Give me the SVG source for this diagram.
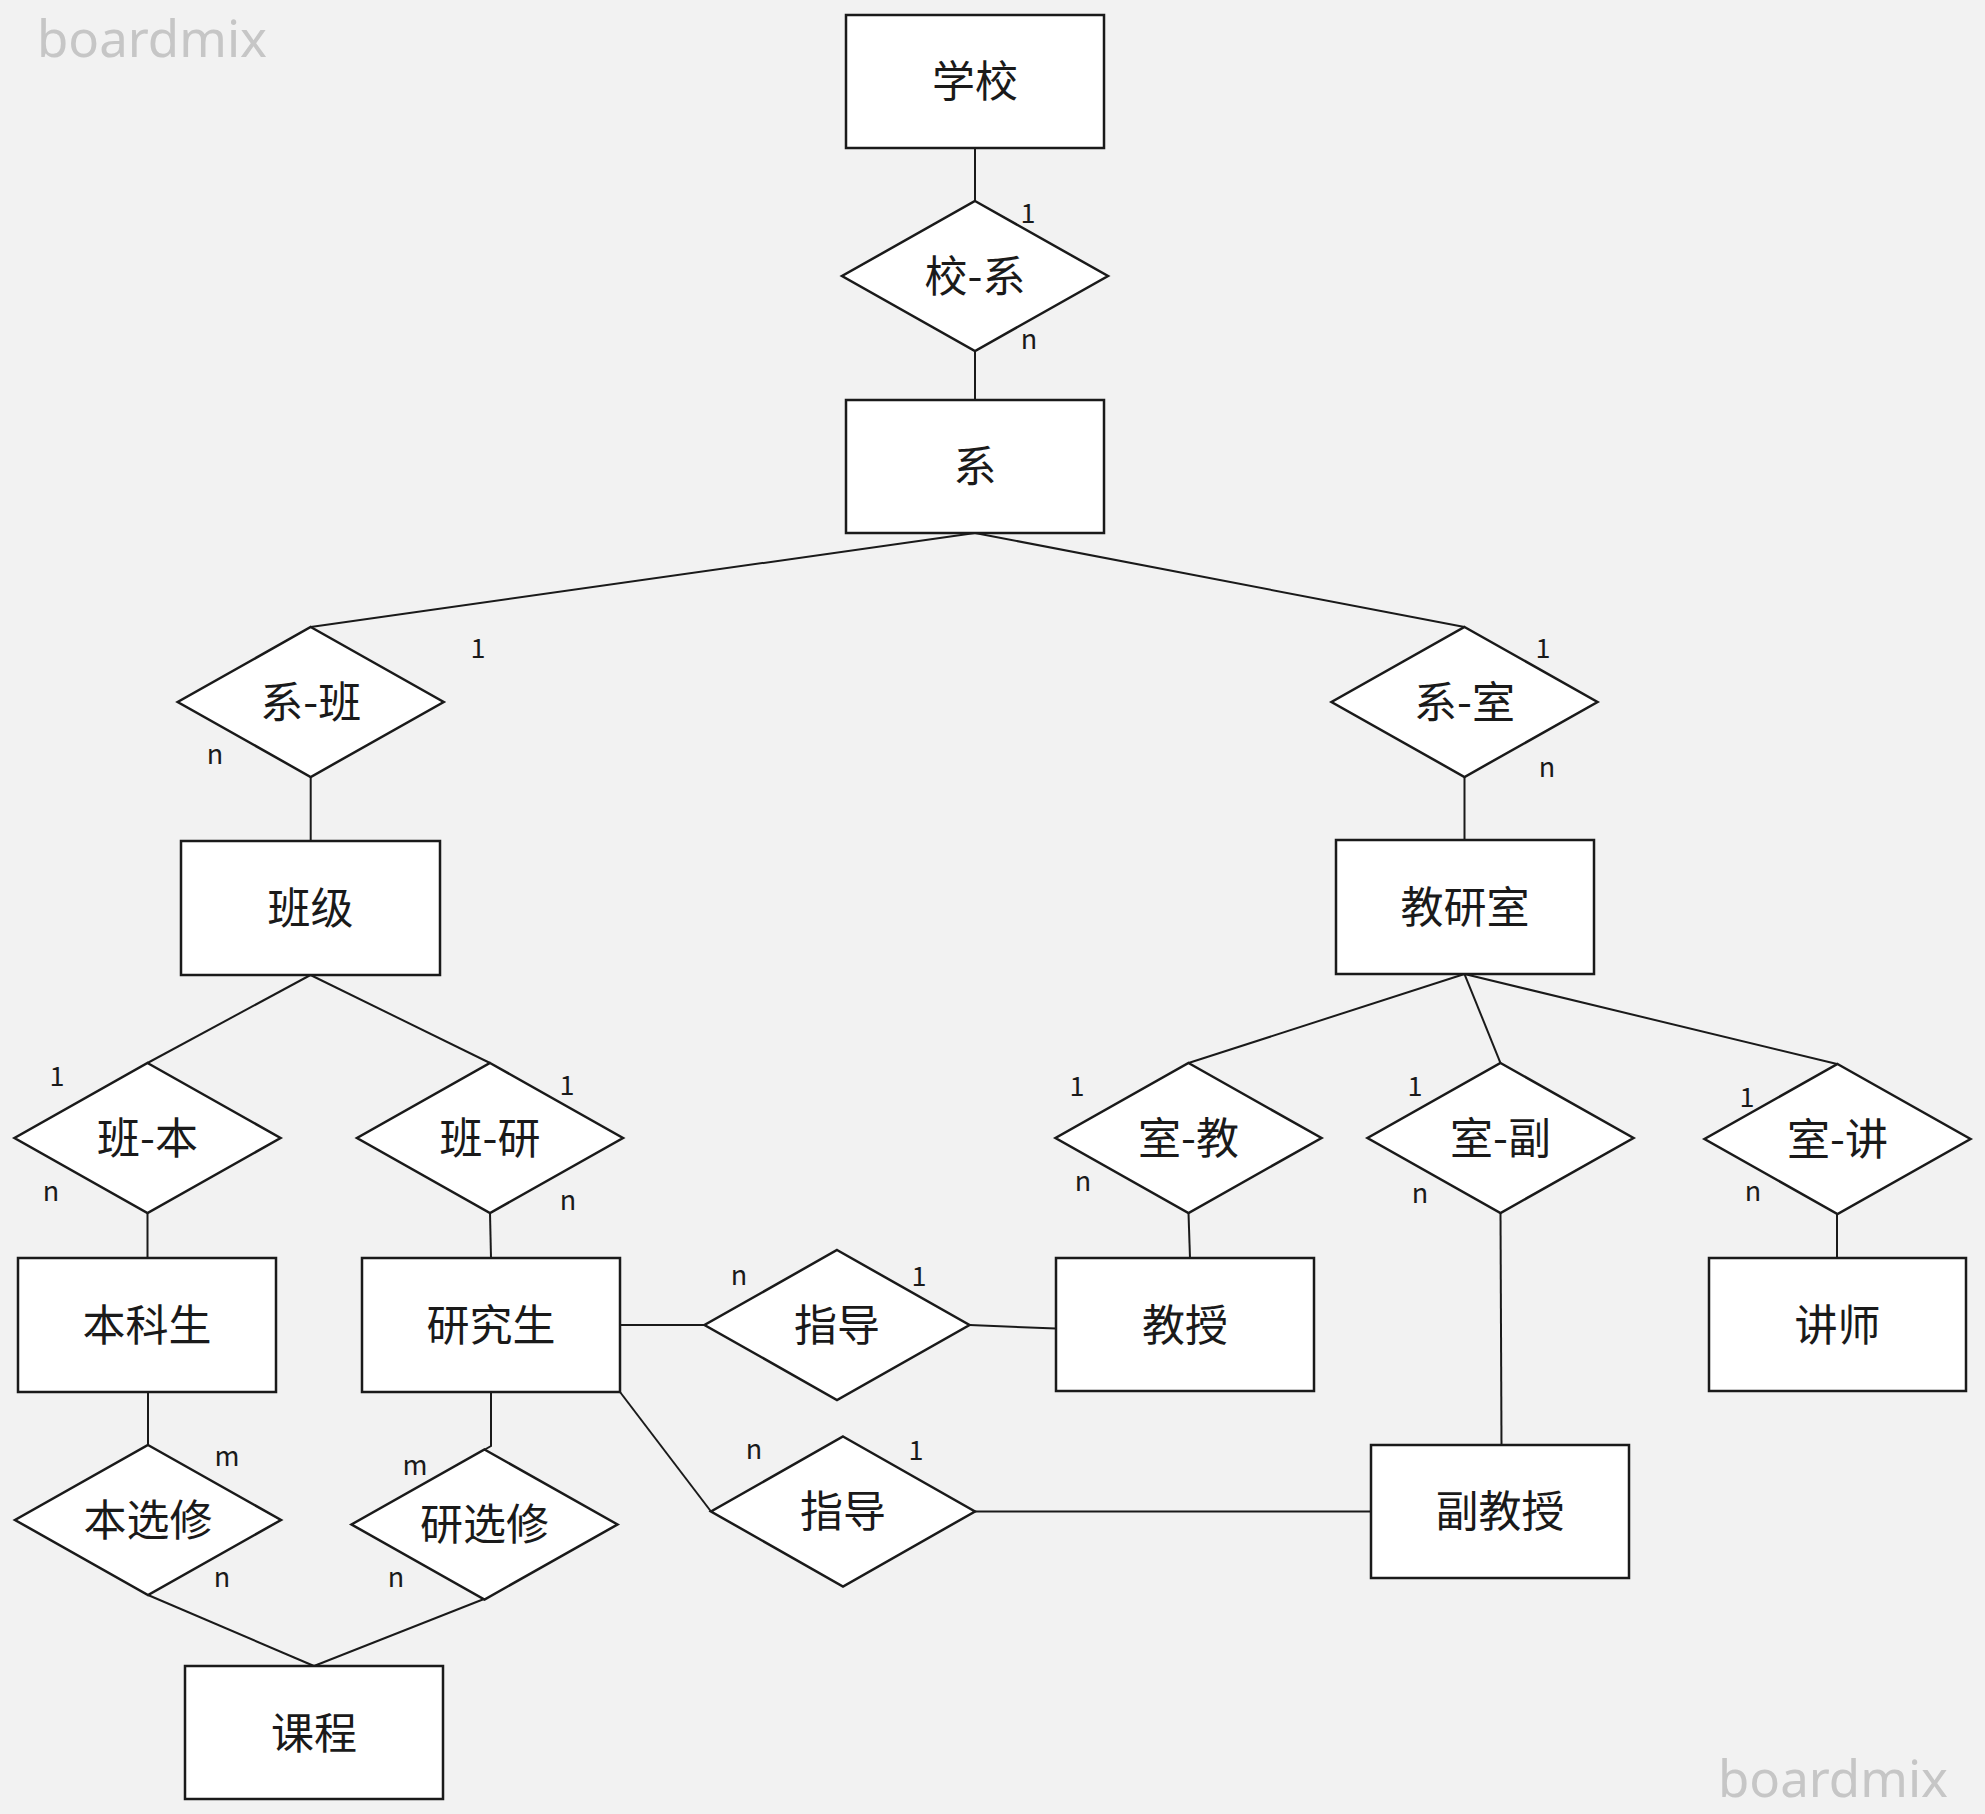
<svg xmlns="http://www.w3.org/2000/svg" width="1985" height="1814" viewBox="0 0 1985 1814">
  <style>
    .bg { fill: #f2f2f2; }
    .ent { fill: #ffffff; stroke: #1a1a1a; stroke-width: 2.5; }
    .rel { fill: #ffffff; stroke: #1a1a1a; stroke-width: 2.5; stroke-linejoin: miter; }
    .lbl { font-family: "Noto Sans CJK SC", "Noto Sans", sans-serif; font-size: 43px; fill: #1a1a1a; text-anchor: middle; }
    .card { font-family: "Noto Sans CJK SC", "Noto Sans", sans-serif; font-size: 27px; fill: #1a1a1a; text-anchor: middle; }
    .wm { font-family: "Noto Sans", "Open Sans", sans-serif; font-size: 51px; fill: #c6c6c6; }
    #connectors line, #connectors polyline { stroke: #1a1a1a; stroke-width: 2; fill: none; }
  </style>

  <rect class="bg" x="0" y="0" width="1985" height="1814"/>

  <!-- watermarks -->
  <text class="wm" x="37" y="57">boardmix</text>
  <text class="wm" x="1718" y="1797">boardmix</text>

  <!-- connectors -->
  <g id="connectors">
    <line x1="975" y1="148" x2="975" y2="201"/>
    <line x1="975" y1="351" x2="975" y2="400"/>
    <line x1="975" y1="533" x2="310.7" y2="627"/>
    <line x1="975" y1="533" x2="1464.5" y2="627"/>
    <line x1="310.7" y1="777" x2="310.7" y2="841"/>
    <line x1="1464.5" y1="777" x2="1464.5" y2="840"/>
    <line x1="310.5" y1="975" x2="147.5" y2="1063"/>
    <line x1="310.5" y1="975" x2="490" y2="1063"/>
    <line x1="147.5" y1="1213" x2="147.5" y2="1258"/>
    <line x1="490" y1="1213" x2="491" y2="1258"/>
    <line x1="1464.5" y1="974" x2="1188.5" y2="1063"/>
    <line x1="1464.5" y1="974" x2="1500.5" y2="1063"/>
    <line x1="1464.5" y1="974" x2="1837" y2="1064"/>
    <line x1="1188.5" y1="1213" x2="1190" y2="1258"/>
    <line x1="1500.5" y1="1213" x2="1501.5" y2="1445"/>
    <line x1="1837" y1="1214" x2="1837" y2="1258"/>
    <line x1="620" y1="1325" x2="705" y2="1325"/>
    <line x1="969.5" y1="1325" x2="1056" y2="1328.5"/>
    <line x1="620" y1="1392" x2="711" y2="1511.5"/>
    <line x1="975" y1="1511.5" x2="1371" y2="1511.5"/>
    <line x1="148" y1="1392" x2="148" y2="1446"/>
    <polyline points="491,1392 491,1446 484,1450"/>
    <line x1="148" y1="1595" x2="314" y2="1666"/>
    <line x1="484" y1="1599" x2="314" y2="1666"/>
  </g>

  <!-- entities -->
  <g id="school">
    <rect class="ent" x="846" y="15" width="258" height="133"/>
    <text class="lbl" x="975" y="97">学校</text>
  </g>
  <g id="department">
    <rect class="ent" x="846" y="400" width="258" height="133"/>
    <text class="lbl" x="975" y="482">系</text>
  </g>
  <g id="class">
    <rect class="ent" x="181" y="841" width="259" height="134"/>
    <text class="lbl" x="310.5" y="924">班级</text>
  </g>
  <g id="office">
    <rect class="ent" x="1336" y="840" width="258" height="134"/>
    <text class="lbl" x="1465" y="923">教研室</text>
  </g>
  <g id="undergrad">
    <rect class="ent" x="18" y="1258" width="258" height="134"/>
    <text class="lbl" x="147" y="1341">本科生</text>
  </g>
  <g id="postgrad">
    <rect class="ent" x="362" y="1258" width="258" height="134"/>
    <text class="lbl" x="491" y="1341">研究生</text>
  </g>
  <g id="professor">
    <rect class="ent" x="1056" y="1258" width="258" height="133"/>
    <text class="lbl" x="1185" y="1341">教授</text>
  </g>
  <g id="lecturer">
    <rect class="ent" x="1709" y="1258" width="257" height="133"/>
    <text class="lbl" x="1837.5" y="1341">讲师</text>
  </g>
  <g id="assoc-professor">
    <rect class="ent" x="1371" y="1445" width="258" height="133"/>
    <text class="lbl" x="1500" y="1527">副教授</text>
  </g>
  <g id="course">
    <rect class="ent" x="185" y="1666" width="258" height="133"/>
    <text class="lbl" x="314" y="1749">课程</text>
  </g>

  <!-- relationships -->
  <g id="rel-school-dept">
    <polygon class="rel" points="975,201 1108,276 975,351 842,276"/>
    <text class="lbl" x="975" y="292">校-系</text>
    <text class="card" x="1028" y="223">1</text>
    <text class="card" x="1029" y="349">n</text>
  </g>
  <g id="rel-dept-class">
    <polygon class="rel" points="310.7,627 443.7,702 310.7,777 177.7,702"/>
    <text class="lbl" x="310.7" y="718">系-班</text>
    <text class="card" x="478" y="658">1</text>
    <text class="card" x="215" y="764">n</text>
  </g>
  <g id="rel-dept-office">
    <polygon class="rel" points="1464.5,627 1597.5,702 1464.5,777 1331.5,702"/>
    <text class="lbl" x="1464.5" y="718">系-室</text>
    <text class="card" x="1543" y="658">1</text>
    <text class="card" x="1547" y="777">n</text>
  </g>
  <g id="rel-class-undergrad">
    <polygon class="rel" points="147.5,1063 280.5,1138 147.5,1213 14.5,1138"/>
    <text class="lbl" x="147.5" y="1154">班-本</text>
    <text class="card" x="57" y="1086">1</text>
    <text class="card" x="51" y="1201">n</text>
  </g>
  <g id="rel-class-postgrad">
    <polygon class="rel" points="490,1063 623,1138 490,1213 357,1138"/>
    <text class="lbl" x="490" y="1154">班-研</text>
    <text class="card" x="567" y="1095">1</text>
    <text class="card" x="568" y="1210">n</text>
  </g>
  <g id="rel-office-professor">
    <polygon class="rel" points="1188.5,1063 1321.5,1138 1188.5,1213 1055.5,1138"/>
    <text class="lbl" x="1188.5" y="1154">室-教</text>
    <text class="card" x="1077" y="1096">1</text>
    <text class="card" x="1083" y="1191">n</text>
  </g>
  <g id="rel-office-assoc">
    <polygon class="rel" points="1500.5,1063 1633.5,1138 1500.5,1213 1367.5,1138"/>
    <text class="lbl" x="1500.5" y="1154">室-副</text>
    <text class="card" x="1415" y="1096">1</text>
    <text class="card" x="1420" y="1203">n</text>
  </g>
  <g id="rel-office-lecturer">
    <polygon class="rel" points="1837.5,1064 1970.5,1139 1837.5,1214 1704.5,1139"/>
    <text class="lbl" x="1837.5" y="1155">室-讲</text>
    <text class="card" x="1747" y="1107">1</text>
    <text class="card" x="1753" y="1201">n</text>
  </g>
  <g id="rel-supervise-professor">
    <polygon class="rel" points="837,1250 969.5,1325 837,1400 704.5,1325"/>
    <text class="lbl" x="837" y="1341">指导</text>
    <text class="card" x="739" y="1285">n</text>
    <text class="card" x="919" y="1286">1</text>
  </g>
  <g id="rel-supervise-assoc">
    <polygon class="rel" points="843,1436.5 975,1511.5 843,1586.5 711,1511.5"/>
    <text class="lbl" x="843" y="1527">指导</text>
    <text class="card" x="754" y="1459">n</text>
    <text class="card" x="916" y="1460">1</text>
  </g>
  <g id="rel-undergrad-course">
    <polygon class="rel" points="148,1445 281,1520 148,1595 15,1520"/>
    <text class="lbl" x="148" y="1536">本选修</text>
    <text class="card" x="227" y="1466">m</text>
    <text class="card" x="222" y="1587">n</text>
  </g>
  <g id="rel-postgrad-course">
    <polygon class="rel" points="484.5,1449.5 617.5,1524.5 484.5,1599.5 351.5,1524.5"/>
    <text class="lbl" x="484.5" y="1540">研选修</text>
    <text class="card" x="415" y="1475">m</text>
    <text class="card" x="396" y="1587">n</text>
  </g>
</svg>
